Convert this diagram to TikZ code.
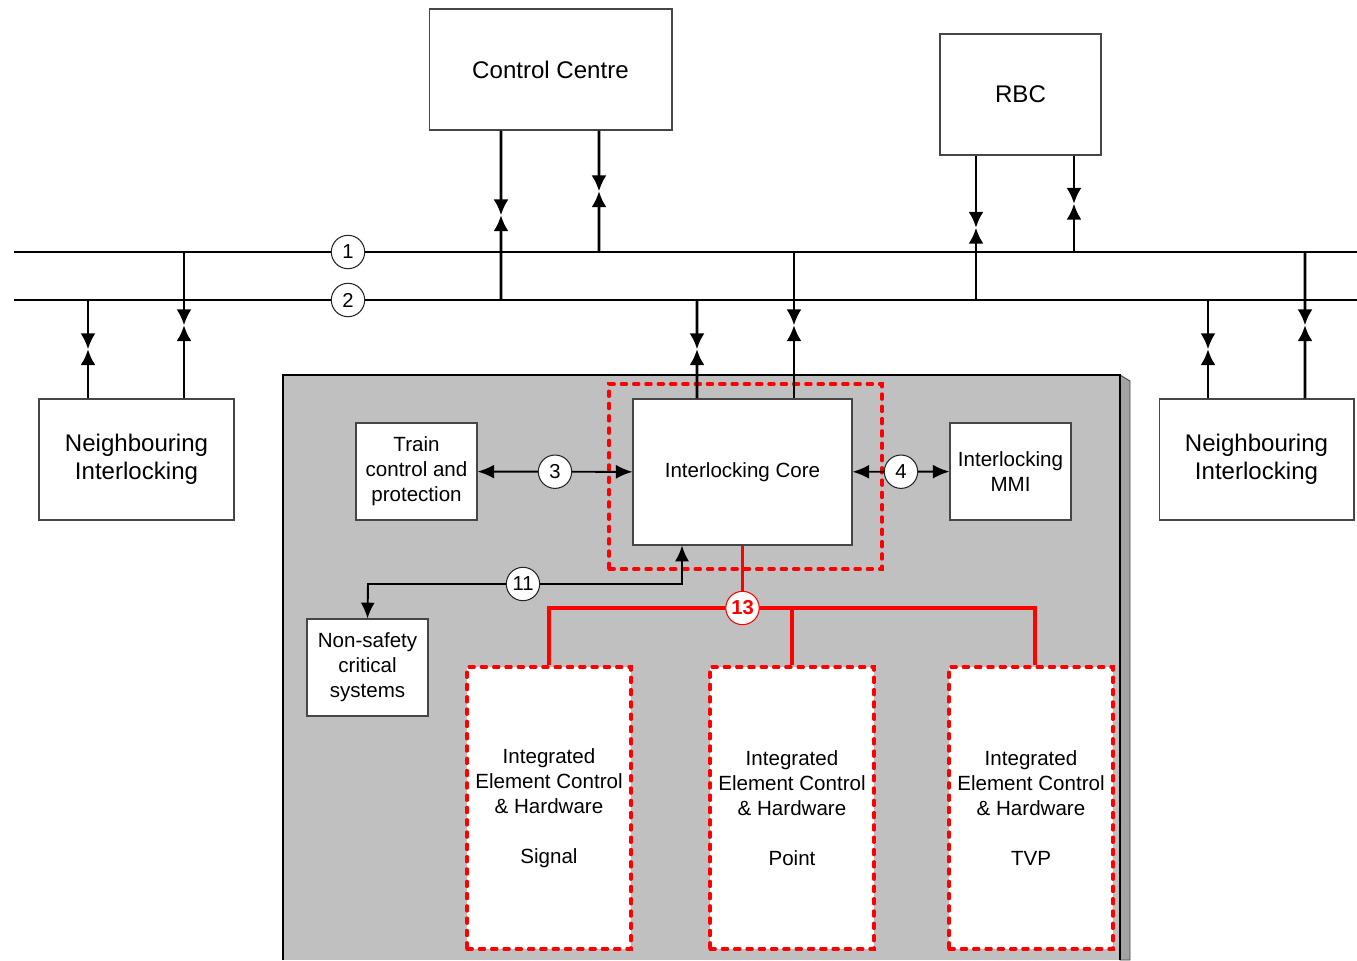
\documentclass[tikz,border=0pt]{standalone}
\usepackage{fontspec}
\setmainfont{Liberation Sans}
\usetikzlibrary{arrows.meta,positioning,calc}

\definecolor{panel}{RGB}{192,192,192}
\definecolor{edgegray}{RGB}{70,70,70}

\tikzset{
  box/.style={draw=edgegray, fill=white, line width=0.6pt, align=center, inner sep=0pt},
  bigtext/.style={font=\fontsize{13.7}{16}\selectfont},
  smalltext/.style={font=\fontsize{11.7}{14.2}\selectfont},
  reddash/.style={draw=red, line width=1.8pt, dash pattern=on 3pt off 4pt, line cap=round},
  elem/.style={box, reddash, smalltext, minimum width=3.28cm, minimum height=5.64cm},
  num/.style={circle, draw=black!85, fill=white, line width=0.6pt, minimum size=19pt, inner sep=0pt, font=\fontsize{11.5}{12}\selectfont},
  bus/.style={line width=1pt},
  link/.style={line width=1.5pt, -{Latex[length=9pt,width=8.5pt]}},
  flow/.style={line width=1.1pt, {Latex[length=9.5pt,width=8pt]}-{Latex[length=9.5pt,width=8pt]}},
  redline/.style={draw=red, line width=1.8pt},
}

\begin{document}
\begin{tikzpicture}[x=0.02cm, y=-0.02cm]
    \useasboundingbox (0,0) rectangle (1357,961);

    % panel
    \fill[panel] (283,375) rectangle (1120,960);
    \filldraw[fill=panel!85!black, draw=edgegray, line width=0.5pt] (1120,375) -- (1130,381) -- (1130,960) -- (1120,960) -- cycle;
    \draw[line width=0.7pt] (283,960) -- (283,375) -- (1120,375) -- (1120,960);

    % top
    \node[box, bigtext, minimum width=4.86cm, minimum height=2.42cm] (cc) at (550.5,69.5) {Control Centre};
    \node[box, bigtext, minimum width=3.22cm, minimum height=2.42cm] (rbc) at (1020.5,94.5) {RBC};

    % sides
    \node[box, bigtext, minimum width=3.9cm, minimum height=2.42cm] (nil) at (136.5,459.5) {Neighbouring\\Interlocking};
    \node[box, bigtext, minimum width=3.9cm, minimum height=2.42cm] (nir) at (1256.5,459.5) {Neighbouring\\Interlocking};

    % interlocking
    \node[reddash, minimum width=5.46cm, minimum height=3.7cm] (frame) at (745.5,476.5) {};
    \node[box, smalltext, minimum width=4.38cm, minimum height=2.92cm] (core) at (742.5,472) {Interlocking Core};
    \node[box, smalltext, minimum width=2.42cm, minimum height=1.94cm] (tcp) at (416.5,471.5) {Train\\control and\\protection};
    \node[box, smalltext, minimum width=2.42cm, minimum height=1.94cm] (mmi) at (1010.5,471.5) {Interlocking\\MMI};
    \node[box, smalltext, minimum width=2.42cm, minimum height=1.94cm] (nsc) at (367.5,667.5) {Non-safety\\critical\\systems};

    % elements
    \node[elem] (sig) at (549,808) {Integrated\\Element Control\\\& Hardware\\[14.2pt]Signal};
    \node[elem] (pnt) at (792,808) {Integrated\\Element Control\\\& Hardware\\[14.2pt]Point};
    \node[elem] (tvp) at (1031,808) {Integrated\\Element Control\\\& Hardware\\[14.2pt]TVP};

    % buses
    \coordinate (w1) at (14,252);
    \coordinate (e1) at (1357,252);
    \coordinate (w2) at (14,300);
    \coordinate (e2) at (1357,300);
    \draw[bus] (w1) -- (e1);
    \draw[bus] (w2) -- (e2);
    \node[num] (c1) at (348,252) {1};
    \node[num] (c2) at (348,300) {2};

    % taps
    \coordinate (t1) at (501,300);
    \coordinate (t2) at (599,252);
    \coordinate (t3) at (976,300);
    \coordinate (t4) at (1074,252);
    \coordinate (t5) at (88,300);
    \coordinate (t6) at (184,252);
    \coordinate (t7) at (1208,300);
    \coordinate (t8) at (1305,252);
    \coordinate (t9) at (697,300);
    \coordinate (t10) at (794,252);

    \coordinate (m1) at ($(cc.south -| t1)!.5!(t1)$);
    \coordinate (m2) at ($(cc.south -| t2)!.5!(t2)$);
    \coordinate (m3) at ($(rbc.south -| t3)!.5!(t3)$);
    \coordinate (m4) at ($(rbc.south -| t4)!.5!(t4)$);
    \coordinate (m5) at ($(nil.north -| t5)!.5!(t5)$);
    \coordinate (m6) at ($(nil.north -| t6)!.5!(t6)$);
    \coordinate (m7) at ($(nir.north -| t7)!.5!(t7)$);
    \coordinate (m8) at ($(nir.north -| t8)!.5!(t8)$);
    \coordinate (m9) at ($(core.north -| t9)!.5!(t9)$);
    \coordinate (m10) at ($(core.north -| t10)!.5!(t10)$);

    % links to buses
    \path[link] (cc.south -| t1) edge (m1) (t1) edge (m1)
    (cc.south -| t2) edge (m2) (t2) edge (m2)
    (rbc.south -| t3) edge (m3) (t3) edge (m3)
    (rbc.south -| t4) edge (m4) (t4) edge (m4)
    (nil.north -| t5) edge (m5) (t5) edge (m5)
    (nil.north -| t6) edge (m6) (t6) edge (m6)
    (nir.north -| t7) edge (m7) (t7) edge (m7)
    (nir.north -| t8) edge (m8) (t8) edge (m8)
    (core.north -| t9) edge (m9) (t9) edge (m9)
    (core.north -| t10) edge (m10) (t10) edge (m10);

    % inside
    \path[flow] (tcp) edge node[num] {3} (core)
    (core) edge node[num] {4} (mmi);

    \coordinate (k11) at (368,584);
    \draw[line width=1.1pt, {Latex[length=9pt,width=8pt]}-{Latex[length=9pt,width=8pt]}] ([xshift=-1.21cm]core.south) |- (k11) -- (nsc.north);
    \node[num] (c11) at (523,584) {11};

    % element bus
    \coordinate (r13) at (742.5,608);
    \draw[redline] (core.south) -- (r13);
    \draw[redline] (sig.north) |- (r13) -| ([xshift=0.08cm]tvp.north);
    \draw[redline] (pnt.north) -- (pnt.north |- r13);
    \node[num, draw=red, text=red, font=\fontsize{11.5}{12}\selectfont\bfseries] (c13) at (r13) {13};
\end{tikzpicture}
\end{document}
